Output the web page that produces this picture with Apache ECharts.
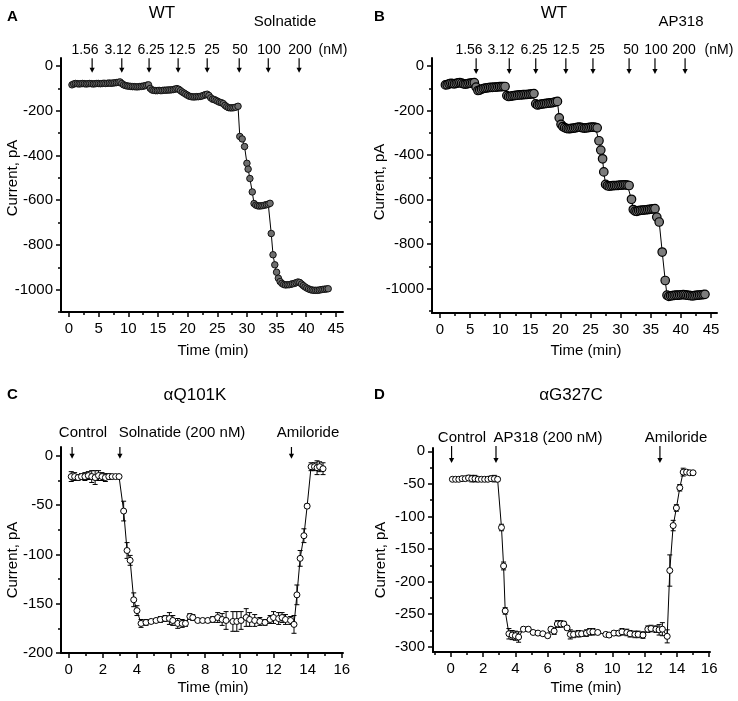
<!DOCTYPE html>
<html><head><meta charset="utf-8">
<script src="https://cdn.jsdelivr.net/npm/echarts@6/dist/echarts.min.js"></script>
<style>html,body{margin:0;padding:0;background:#fff}#chart{width:738px;height:701px}</style>
</head><body><div id="chart"></div>
<script>
// ---------------- DATA ----------------
const timeA = [0.5,0.8,1.1,1.4,1.7,2.0,2.3,2.6,2.9,3.2,3.5,3.8,4.1,4.4,4.7,5.0,5.3,5.6,5.9,6.2,6.5,6.8,7.1,7.4,7.7,8.0,8.3,8.6,
  8.9,9.2,9.5,9.8,10.1,10.4,10.7,11.0,11.3,11.6,11.9,12.2,12.5,12.8,13.1,13.4,
  13.7,14.0,14.3,14.6,14.9,15.2,15.5,15.8,16.1,16.4,16.7,17.0,17.3,17.6,17.9,18.2,
  18.5,18.8,19.1,19.4,19.7,20.0,20.3,
  20.6,20.9,21.2,21.5,21.8,22.1,22.4,22.7,23.0,23.3,
  23.6,23.9,24.2,24.5,24.8,25.1,25.4,25.7,26.0,26.3,
  26.6,26.9,27.2,27.5,27.8,28.1,28.5,
  28.8,29.2,29.6,30.0,30.2,30.5,30.9,31.2,
  31.5,31.8,32.1,32.4,32.7,33.0,33.3,33.6,33.9,
  34.1,34.4,34.7,35.0,35.3,35.6,
  35.9,36.2,36.5,36.8,37.1,37.4,37.7,38.0,38.3,38.6,38.9,39.2,39.5,39.8,40.1,40.4,40.7,41.0,41.3,41.6,41.9,42.2,42.5,42.8,43.1,43.4,43.7];
const currentA = [-84,-80,-78,-79,-80,-79,-78,-79,-80,-79,-78,-79,-80,-79,-78,-78,-79,-78,-77,-78,-77,-76,-77,-76,-75,-74,-73,-71,
  -78,-84,-87,-89,-90,-91,-92,-92,-93,-93,-92,-91,-90,-88,-86,-84,
  -100,-107,-109,-110,-110,-109,-110,-109,-108,-108,-107,-107,-106,-105,-103,-101,
  -104,-110,-116,-121,-126,-131,-135,
  -137,-138,-138,-137,-137,-136,-134,-131,-128,-126,
  -132,-142,-148,-150,-154,-158,-162,-164,-168,-176,
  -182,-186,-187,-187,-186,-184,-180,
  -315,-326,-360,-435,-461,-503,-563,-615,
  -622,-625,-626,-625,-624,-622,-620,-618,-614,
  -749,-844,-889,-922,-949,-964,
  -972,-977,-979,-978,-978,-976,-974,-972,-969,-966,-968,-975,-982,-988,-993,-997,-1000,-1002,-1003,-1003,-1003,-1002,-1000,-999,-998,-997,-996];

const timeB = [0.9,1.2,1.5,1.8,2.1,2.4,2.7,3.0,3.3,3.6,3.9,4.2,4.5,4.8,5.1,5.4,5.7,
  6.0,6.3,6.6,6.9,7.2,7.5,7.8,8.1,8.4,8.7,9.0,9.3,9.6,9.9,10.2,10.5,10.8,
  11.1,11.4,11.7,12.0,12.3,12.6,12.9,13.2,13.5,13.8,14.1,14.4,14.7,15.0,15.3,15.6,
  15.9,16.2,16.5,16.8,17.1,17.4,17.7,18.0,18.3,18.6,18.9,19.2,19.5,
  19.8,20.1,
  20.4,20.7,21.0,21.3,21.6,21.9,22.2,22.5,22.8,23.1,23.4,23.7,24.0,24.3,24.6,24.9,25.2,25.5,25.8,26.1,
  26.4,26.7,27.0,27.2,
  27.5,27.8,28.1,28.4,28.7,29.0,29.3,29.6,29.9,30.2,30.5,30.8,31.1,31.4,
  31.8,
  32.1,32.4,32.7,33.0,33.3,33.6,33.9,34.2,34.5,34.8,35.1,35.4,35.7,
  36.0,36.4,36.9,37.4,
  37.7,38.0,38.3,38.6,38.9,39.2,39.5,39.8,40.1,40.4,40.7,41.0,41.3,41.6,41.9,42.2,42.5,42.8,43.1,43.4,43.7,44.0];
const currentB = [-85,-84,-80,-78,-79,-80,-78,-76,-75,-77,-80,-81,-80,-78,-77,-76,-75,
  -95,-110,-108,-104,-101,-99,-98,-97,-96,-96,-95,-95,-94,-93,-93,-92,-92,
  -133,-137,-136,-134,-133,-132,-131,-130,-130,-129,-128,-128,-127,-126,-125,-124,
  -170,-175,-173,-171,-170,-169,-168,-167,-166,-165,-163,-161,-159,
  -233,-262,
  -272,-277,-280,-282,-281,-280,-279,-278,-276,-275,-276,-278,-279,-278,-277,-276,-275,-275,-276,-278,
  -336,-378,-417,-476,
  -532,-538,-540,-539,-538,-537,-537,-536,-535,-535,-534,-534,-535,-537,
  -599,
  -645,-652,-653,-650,-649,-648,-647,-646,-645,-644,-643,-642,-641,
  -679,-701,-836,-964,
  -1030,-1035,-1033,-1032,-1031,-1030,-1030,-1029,-1028,-1027,-1028,-1030,-1031,-1032,-1033,-1032,-1031,-1030,-1029,-1028,-1027,-1026];

const timeC = [0.15,0.35,0.55,0.75,0.95,1.15,1.35,1.55,1.75,1.95,2.15,2.35,2.55,2.75,2.95,
  3.22,3.42,3.6,3.81,4.0,
  4.24,4.53,4.83,5.12,5.37,5.65,5.9,6.1,6.39,6.65,6.84,7.1,7.27,7.56,7.85,8.15,8.44,8.73,8.99,9.22,9.62,9.85,10.1,10.4,10.6,10.9,11.2,11.5,11.8,12.0,12.3,12.5,12.7,13.0,13.2,
  13.37,13.56,13.78,13.97,14.2,14.4,14.55,14.7,14.9];
const currentC = [-21,-21,-22,-21,-21,-20,-21,-22,-20,-21,-22,-21,-21,-21,-21,
  -56,-96,-106,-146,-157,
  -170,-169,-168,-167,-166,-165,-165,-167,-170,-170,-170,-163,-164,-167,-167,-167,-166,-164,-166,-167,-168,-168,-167,-164,-166,-167,-168,-169,-166,-164,-165,-164,-166,-167,-171,
  -141,-104,-81,-51,-11,-11,-12,-11,-13];
const errorC = [5,4,3,3,4,4,6,7,5,4,4,3,2,2,1,
  10,8,5,7,5,
  4,3,2,2,3,3,6,5,5,4,3,3,3,2,2,2,3,5,6,9,10,10,9,9,7,6,4,3,4,6,6,5,5,4,9,
  10,8,7,2,4,4,7,5,6];

const timeD = [0.1,0.3,0.5,0.7,0.9,1.1,1.3,1.5,1.7,1.9,2.1,2.3,2.5,2.7,2.9,
  3.14,3.27,3.37,
  3.6,3.8,4.0,4.2,4.5,4.8,5.1,5.4,5.7,6.0,6.2,6.4,6.6,6.8,7.0,7.2,7.4,7.6,7.9,8.1,8.4,8.6,8.8,9.1,9.6,9.8,10.1,10.4,10.6,10.9,11.1,11.4,11.6,11.9,12.2,12.4,12.7,12.9,13.1,13.4,
  13.56,13.77,13.97,14.18,14.39,14.6,14.8,15.0];
const currentD = [-43,-43,-43,-42,-42,-41,-42,-42,-43,-43,-43,-43,-42,-42,-43,
  -117,-176,-245,
  -280,-282,-283,-285,-273,-273,-278,-279,-280,-283,-273,-276,-265,-265,-265,-271,-281,-281,-280,-280,-279,-277,-277,-278,-281,-282,-279,-279,-277,-278,-280,-281,-281,-282,-273,-272,-273,-274,-273,-284,
  -183,-114,-87,-56,-32,-32,-33,-33];
const errorD = [1,1,2,3,3,4,5,5,3,2,2,2,4,5,3,
  5,6,5,
  8,7,7,8,3,3,2,2,2,3,3,5,5,5,4,3,7,5,5,4,5,5,5,3,3,3,3,4,5,5,5,5,5,5,5,5,5,8,10,10,
  24,8,5,5,6,2,1,1];

const doseLabels = ['1.56','3.12','6.25','12.5','25','50','100','200'];
const doseUnit = '(nM)';
const arrowTimesA = [3.9, 8.9, 13.5, 18.4, 23.3, 28.7, 33.6, 38.8];
const arrowTimesB = [6.0, 11.5, 15.9, 20.9, 25.4, 31.4, 35.7, 40.7];
const eventLabelsC = ['Control', 'Solnatide (200 nM)', 'Amiloride'];
const eventLabelsD = ['Control', 'AP318 (200 nM)', 'Amiloride'];
const arrowTimesC = [0.2, 3.0, 13.05];
const arrowTimesD = [0.05, 2.8, 12.95];
const panelLetters = ['A', 'B', 'C', 'D'];
const panelTitles = ['WT', 'WT', 'αQ101K', 'αG327C'];
const drugNames = ['Solnatide', 'AP318'];

const xMajorAB = [0,5,10,15,20,25,30,35,40,45];
const xMinorAB = [2.5,7.5,12.5,17.5,22.5,27.5,32.5,37.5,42.5];
const yMajorAB = [0,-200,-400,-600,-800,-1000];
const yMinorAB = [-100,-300,-500,-700,-900,-1100];
const xMajorCD = [0,2,4,6,8,10,12,14,16];
const xMinorCD = [-1,1,3,5,7,9,11,13,15];
const yMajorC = [0,-50,-100,-150,-200];
const yMinorC = [-25,-75,-125,-175];
const yMajorD = [0,-50,-100,-150,-200,-250,-300];
const yMinorD = [-25,-75,-125,-175,-225,-275];

// ---------------- LAYOUT ----------------
const FONT = '"Liberation Sans", Arial, Helvetica, sans-serif';
const panels = [
  {grid:{left:61, top:58, width:282, height:254}, x:[-1.35,46.2], y:[-1100,36], xMaj:xMajorAB, xMin:xMinorAB, yMaj:yMajorAB, yMin:yMinorAB},
  {grid:{left:432, top:58, width:285, height:255}, x:[-1.33,46.0], y:[-1110,36], xMaj:xMajorAB, xMin:xMinorAB, yMaj:yMajorAB, yMin:yMinorAB},
  {grid:{left:61, top:447, width:282, height:206}, x:[-0.45,16.07], y:[-200,9], xMaj:xMajorCD, xMin:xMinorCD, yMaj:yMajorC, yMin:yMinorC},
  {grid:{left:433, top:448, width:277, height:204}, x:[-1.1,16.05], y:[-308,5], xMaj:xMajorCD, xMin:xMinorCD, yMaj:yMajorD, yMin:yMinorD}
];

const plain = v => String(v);
const grids = [], xAxes = [], yAxes = [];
panels.forEach((p, g) => {
  grids.push(Object.assign({containLabel:false}, p.grid));
  const tickStyle = {color:'#000', width:1.5};
  const labelStyle = {color:'#000', fontSize:15, fontFamily:FONT, formatter:plain};
  xAxes.push({gridIndex:g, type:'value', position:'bottom', min:p.x[0], max:p.x[1],
    axisLine:{show:true, onZero:false, lineStyle:{color:'#000', width:2}},
    axisTick:{show:true, customValues:p.xMaj, length:5, lineStyle:tickStyle},
    axisLabel:Object.assign({show:true, customValues:p.xMaj, margin:9}, labelStyle),
    splitLine:{show:false}});
  xAxes.push({gridIndex:g, type:'value', position:'bottom', min:p.x[0], max:p.x[1],
    axisLine:{show:false, onZero:false},
    axisTick:{show:true, customValues:p.xMin, length:3, lineStyle:tickStyle},
    axisLabel:{show:false}, splitLine:{show:false}});
  yAxes.push({gridIndex:g, type:'value', position:'left', min:p.y[0], max:p.y[1],
    axisLine:{show:true, onZero:false, lineStyle:{color:'#000', width:2}},
    axisTick:{show:true, customValues:p.yMaj, length:5, lineStyle:tickStyle},
    axisLabel:Object.assign({show:true, customValues:p.yMaj, margin:8}, labelStyle),
    splitLine:{show:false}});
  yAxes.push({gridIndex:g, type:'value', position:'left', min:p.y[0], max:p.y[1],
    axisLine:{show:false, onZero:false},
    axisTick:{show:true, customValues:p.yMin, length:3, lineStyle:tickStyle},
    axisLabel:{show:false}, splitLine:{show:false}});
});

function zip(t, v, e) { return t.map((x, i) => e ? [x, v[i], e[i]] : [x, v[i]]); }

function arrowRenderer(top, tip) {
  return function (params, api) {
    const t = api.value(0);
    const p0 = api.coord([t, top]);
    const p1 = api.coord([t, tip]);
    const head = 5, hw = 2.6;
    return {type:'group', children:[
      {type:'line', shape:{x1:p0[0], y1:p0[1], x2:p1[0], y2:p1[1]-head+1}, style:{stroke:'#000', lineWidth:1.2}},
      {type:'polygon', shape:{points:[[p1[0]-hw, p1[1]-head],[p1[0]+hw, p1[1]-head],[p1[0], p1[1]]]}, style:{fill:'#000'}}
    ]};
  };
}
function errorRenderer(params, api) {
  const x = api.value(0), y = api.value(1), e = api.value(2);
  const hi = api.coord([x, y + e]);
  const lo = api.coord([x, y - e]);
  const hw = 2.5;
  const st = {stroke:'#000', lineWidth:1};
  return {type:'group', children:[
    {type:'line', shape:{x1:hi[0], y1:hi[1], x2:lo[0], y2:lo[1]}, style:st},
    {type:'line', shape:{x1:hi[0]-hw, y1:hi[1], x2:hi[0]+hw, y2:hi[1]}, style:st},
    {type:'line', shape:{x1:lo[0]-hw, y1:lo[1], x2:lo[0]+hw, y2:lo[1]}, style:st}
  ]};
}

function lineSeries(g, data, size, fill, border, bw) {
  return {type:'line', xAxisIndex:2*g, yAxisIndex:2*g, data, symbol:'circle', symbolSize:size, showSymbol:true,
    showAllSymbol:true, z:3, lineStyle:{color:'#000', width:1},
    itemStyle:{color:fill, borderColor:border, borderWidth:bw}, emphasis:{disabled:true}, silent:true};
}
function arrowSeries(g, times, top, tip) {
  return {type:'custom', xAxisIndex:2*g, yAxisIndex:2*g, data:times.map(t => [t, tip]), renderItem:arrowRenderer(top, tip), z:4, silent:true, clip:false};
}
function errSeries(g, data) {
  return {type:'custom', xAxisIndex:2*g, yAxisIndex:2*g, data, renderItem:errorRenderer, z:2, silent:true, clip:false};
}

const series = [
  lineSeries(0, zip(timeA, currentA), 6.5, '#6e6e6e', '#111', 1),
  lineSeries(1, zip(timeB, currentB), 8.5, '#7c7c7c', '#000', 1.2),
  errSeries(2, zip(timeC, currentC, errorC)),
  lineSeries(2, zip(timeC, currentC), 6, '#fff', '#000', 1),
  errSeries(3, zip(timeD, currentD, errorD)),
  lineSeries(3, zip(timeD, currentD), 6, '#fff', '#000', 1),
  arrowSeries(0, arrowTimesA, 35, -30),
  arrowSeries(1, arrowTimesB, 35, -36),
  arrowSeries(2, arrowTimesC, 9, -3),
  arrowSeries(3, arrowTimesD, 8, -18)
];

function txt(text, x, y, o) {
  o = o || {};
  const size = o.size || 15;
  return {type:'text', x, y, rotation:o.rot || 0, silent:true,
    style:{text, fill:'#000', font:(o.bold ? 'bold ' : '') + size + 'px ' + FONT,
      align:o.align || 'center', verticalAlign:'middle', textAlign:o.align || 'center', textVerticalAlign:'middle'}};
}

const doseXA = [85,118,151,182,212,240,269,300], unitXA = 333;
const doseXB = [469,501,534,566,597,631,656,684], unitXB = 719;
const graphics = [
  txt(panelLetters[0], 7, 17, {bold:true, align:'left'}),
  txt(panelLetters[1], 374, 17, {bold:true, align:'left'}),
  txt(panelLetters[2], 7, 395, {bold:true, align:'left'}),
  txt(panelLetters[3], 374, 395, {bold:true, align:'left'}),
  txt(panelTitles[0], 162, 13, {size:17}),
  txt(panelTitles[1], 554, 13, {size:17}),
  txt(panelTitles[2], 195, 395, {size:17}),
  txt(panelTitles[3], 571, 395, {size:17}),
  txt(drugNames[0], 285, 22),
  txt(drugNames[1], 681, 22),
  ...doseLabels.map((d, i) => txt(d, doseXA[i], 50, {size:14})),
  txt(doseUnit, unitXA, 50, {size:14}),
  ...doseLabels.map((d, i) => txt(d, doseXB[i], 50, {size:14})),
  txt(doseUnit, unitXB, 50, {size:14}),
  ...eventLabelsC.map((d, i) => txt(d, [83,182,308][i], 433)),
  ...eventLabelsD.map((d, i) => txt(d, [462,548,676][i], 438)),
  txt('Time (min)', 213, 351),
  txt('Time (min)', 586, 351),
  txt('Time (min)', 213, 688),
  txt('Time (min)', 586, 688),
  txt('Current, pA', 13, 178, {rot:Math.PI/2}),
  txt('Current, pA', 380, 182, {rot:Math.PI/2}),
  txt('Current, pA', 13, 560, {rot:Math.PI/2}),
  txt('Current, pA', 381, 560, {rot:Math.PI/2})
];

const chart = echarts.init(document.getElementById('chart'), null, {renderer:'canvas'});
chart.setOption({
  animation:false,
  backgroundColor:'#fff',
  textStyle:{fontFamily:FONT, color:'#000'},
  grid:grids, xAxis:xAxes, yAxis:yAxes, series, graphic:graphics
});
</script></body></html>
